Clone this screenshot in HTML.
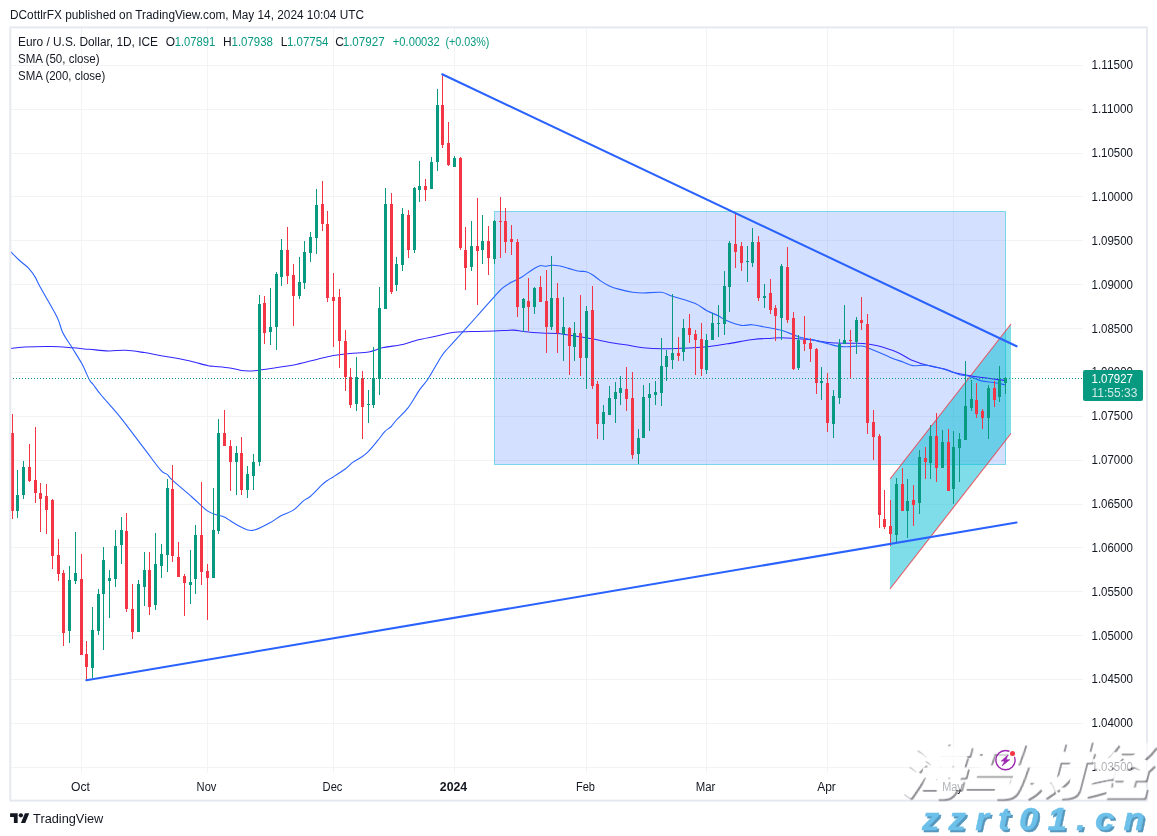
<!DOCTYPE html>
<html lang="en"><head><meta charset="utf-8"><title>EURUSD chart</title>
<style>html,body{margin:0;padding:0;background:#fff}body{width:1157px;height:836px;overflow:hidden;position:relative;font-family:"Liberation Sans",sans-serif}</style>
</head><body>
<svg width="1157" height="836" viewBox="0 0 1157 836" style="position:absolute;left:0;top:0">
<rect x="0" y="0" width="1157" height="836" fill="#fff"/>
<g fill="#f2f3f4" shape-rendering="crispEdges">
<rect x="11" y="65" width="1072" height="1"/>
<rect x="11" y="109" width="1072" height="1"/>
<rect x="11" y="153" width="1072" height="1"/>
<rect x="11" y="196" width="1072" height="1"/>
<rect x="11" y="240" width="1072" height="1"/>
<rect x="11" y="284" width="1072" height="1"/>
<rect x="11" y="328" width="1072" height="1"/>
<rect x="11" y="372" width="1072" height="1"/>
<rect x="11" y="416" width="1072" height="1"/>
<rect x="11" y="460" width="1072" height="1"/>
<rect x="11" y="504" width="1072" height="1"/>
<rect x="11" y="547" width="1072" height="1"/>
<rect x="11" y="591" width="1072" height="1"/>
<rect x="11" y="635" width="1072" height="1"/>
<rect x="11" y="679" width="1072" height="1"/>
<rect x="11" y="723" width="1072" height="1"/>
<rect x="11" y="767" width="1072" height="1"/>
<rect x="81" y="28" width="1" height="745"/>
<rect x="207" y="28" width="1" height="745"/>
<rect x="333" y="28" width="1" height="745"/>
<rect x="454" y="28" width="1" height="745"/>
<rect x="586" y="28" width="1" height="745"/>
<rect x="706" y="28" width="1" height="745"/>
<rect x="827" y="28" width="1" height="745"/>
<rect x="953" y="28" width="1" height="745"/>
</g>
<rect x="494.5" y="211.5" width="511" height="253" fill="#2962ff" fill-opacity="0.2" stroke="#5fd0e3" stroke-opacity="0.8" stroke-width="1"/>
<polygon points="890,479 1011,324 1011,433.5 890,589" fill="#00bcd4" fill-opacity="0.5"/>
<g stroke="#f23645" stroke-opacity="0.8" stroke-width="1.1" fill="none"><line x1="890" y1="479" x2="1011" y2="324"/><line x1="890" y1="589" x2="1011" y2="433.5"/></g>
<path d="M10.5,348.4C12.9,348.1 17.9,347.2 24.7,346.9C31.5,346.6 43.4,346.4 51.3,346.5C59.2,346.6 65.9,347.3 72.3,347.8C78.7,348.3 83.4,348.8 89.4,349.3C95.4,349.8 102.4,350.7 108.4,350.9C114.4,351.1 119.5,350.0 125.5,350.3C131.5,350.6 138.8,351.8 144.5,352.6C150.2,353.5 154.3,354.4 159.7,355.4C165.1,356.3 171.7,357.4 176.8,358.3C181.9,359.2 185.0,359.9 190.1,361.1C195.2,362.3 203.5,364.6 207.3,365.5C211.1,366.4 209.2,365.9 213.0,366.3C216.8,366.7 225.1,367.2 229.8,367.9C234.6,368.6 237.8,370.0 241.5,370.5C245.2,371.0 248.9,371.0 251.9,370.9C254.9,370.8 256.2,370.5 259.6,370.1C263.1,369.7 266.3,369.3 272.6,368.3C278.9,367.3 289.9,365.7 297.2,364.2C304.5,362.7 310.6,360.8 316.7,359.4C322.8,358.0 327.9,356.6 333.5,355.6C339.1,354.6 344.1,354.0 350.0,353.4C355.9,352.8 363.3,352.9 368.9,351.9C374.4,350.9 377.6,348.9 383.3,347.6C389.0,346.4 397.0,345.7 402.8,344.4C408.6,343.1 412.5,341.2 418.3,339.8C424.1,338.4 431.8,336.9 437.8,335.7C443.9,334.4 448.1,333.0 454.6,332.3C461.1,331.6 470.0,331.6 476.7,331.4C483.4,331.2 488.5,331.3 494.6,331.1C500.7,330.9 508.4,330.1 513.3,330.1C518.1,330.2 518.9,330.9 523.7,331.4C528.5,331.9 536.3,332.6 541.9,333.0C547.5,333.4 550.9,332.9 557.4,333.5C563.9,334.1 575.0,336.0 580.8,336.9C586.6,337.8 587.0,337.8 592.4,338.8C597.8,339.8 606.9,342.0 613.2,343.1C619.5,344.2 625.0,344.7 630.0,345.5C635.0,346.3 637.6,347.2 643.0,347.7C648.4,348.2 655.9,348.6 662.4,348.7C668.9,348.8 674.5,348.6 681.9,348.3C689.2,348.0 699.0,347.6 706.5,346.8C714.0,346.1 719.4,345.0 727.2,343.8C735.0,342.6 746.1,340.3 753.2,339.4C760.3,338.5 765.2,338.7 770.0,338.4C774.8,338.1 777.4,337.7 781.7,337.7C786.0,337.7 790.7,338.2 795.9,338.6C801.1,339.0 807.4,339.2 812.8,339.9C818.2,340.5 822.5,341.9 828.3,342.5C834.1,343.1 842.0,343.1 847.8,343.2C853.6,343.3 858.3,343.0 863.3,343.4C868.3,343.8 872.0,344.2 877.6,345.7C883.2,347.2 891.5,349.8 897.1,352.2C902.7,354.6 905.8,357.6 911.3,359.9C916.8,362.2 924.3,364.6 930.0,366.1C935.7,367.7 941.7,368.2 945.6,369.2C949.5,370.2 949.4,371.2 953.3,372.3C957.2,373.4 963.7,374.6 968.9,375.5C974.1,376.4 978.5,376.9 984.5,377.8C990.5,378.7 1001.6,380.1 1005.0,380.6" fill="none" stroke="#3226ff" stroke-width="1.05" stroke-linejoin="round"/>
<path d="M10.5,251.4C11.9,252.8 16.0,257.2 19.0,260.0C22.0,262.8 25.8,265.2 28.5,268.1C31.2,271.0 33.3,274.0 35.2,277.1C37.1,280.2 36.3,280.0 39.9,286.6C43.5,293.2 53.2,309.3 57.0,317.0C60.8,324.7 60.2,327.4 62.7,332.6C65.2,337.8 69.1,342.8 72.3,348.0C75.5,353.2 78.9,358.3 81.8,363.6C84.7,368.9 87.5,376.3 89.4,379.8C91.3,383.3 91.2,382.0 93.2,384.5C95.2,387.0 96.4,389.4 101.1,395.0C105.8,400.6 114.1,409.4 121.2,418.3C128.3,427.2 137.3,439.6 143.9,448.2C150.5,456.8 156.8,465.7 160.7,470.1C164.6,474.5 165.2,472.7 167.2,474.4C169.1,476.1 168.3,476.4 172.4,480.2C176.5,484.0 186.1,491.9 191.9,497.0C197.7,502.1 203.1,507.9 207.4,510.9C211.7,513.9 215.0,514.2 217.8,515.2C220.6,516.2 220.4,515.1 224.3,517.1C228.2,519.1 236.3,524.9 241.1,527.1C245.8,529.3 248.0,531.1 252.8,530.4C257.6,529.7 265.3,525.2 270.0,522.8C274.7,520.3 277.1,517.8 281.0,515.7C284.9,513.6 289.5,512.6 293.3,510.1C297.1,507.6 300.9,502.9 303.7,500.6C306.5,498.3 307.2,499.1 310.2,496.5C313.2,493.9 319.1,487.4 321.9,484.8C324.7,482.2 325.1,482.1 327.0,480.7C328.9,479.3 330.5,478.6 333.5,476.7C336.5,474.8 341.9,471.4 345.2,469.0C348.4,466.6 350.2,464.2 353.0,462.1C355.8,460.1 359.5,458.5 362.1,456.7C364.7,454.9 365.9,454.1 368.5,451.4C371.1,448.7 374.9,444.0 377.6,440.7C380.3,437.4 382.4,434.1 384.7,431.7C387.0,429.3 389.2,428.4 391.2,426.5C393.1,424.6 393.6,423.1 396.4,420.0C399.2,416.9 403.9,413.1 407.8,408.1C411.7,403.1 416.1,394.9 419.5,389.9C422.9,384.9 424.8,383.8 428.5,378.2C432.2,372.6 438.2,361.2 441.5,356.2C444.8,351.2 444.7,352.0 448.2,348.0C451.7,344.0 457.6,337.6 462.4,332.3C467.1,327.1 471.3,322.5 476.7,316.5C482.1,310.5 490.2,301.1 494.6,296.3C499.0,291.5 500.1,290.1 503.0,287.7C505.9,285.3 508.8,283.7 512.0,281.9C515.2,280.1 519.1,278.6 522.4,276.7C525.6,274.8 528.6,272.0 531.5,270.2C534.4,268.4 537.5,266.3 539.9,265.7C542.3,265.1 543.9,266.4 545.8,266.3C547.7,266.2 549.4,265.4 551.5,265.3C553.6,265.2 555.8,265.1 558.7,265.7C561.6,266.2 565.6,267.7 569.1,268.6C572.6,269.5 576.6,270.7 579.5,271.2C582.4,271.7 584.1,271.1 586.3,271.7C588.4,272.3 590.1,273.2 592.4,274.7C594.7,276.2 597.4,278.7 600.2,280.6C603.0,282.5 606.1,284.5 609.3,286.0C612.5,287.5 615.7,288.4 619.6,289.4C623.5,290.4 628.7,291.6 632.6,292.2C636.5,292.8 638.2,293.0 643.0,293.0C647.8,293.0 656.2,291.8 661.1,292.3C666.0,292.8 666.8,294.4 672.4,296.2C678.0,298.0 689.1,300.9 694.8,303.3C700.5,305.7 702.6,308.4 706.5,310.5C710.4,312.6 715.0,314.1 718.2,315.7C721.4,317.3 722.0,318.6 725.9,320.2C729.8,321.8 737.2,324.6 741.5,325.4C745.8,326.1 747.8,324.4 751.9,324.7C756.0,325.0 760.9,326.3 766.1,327.3C771.3,328.3 777.6,329.2 783.0,330.8C788.4,332.4 793.5,335.2 798.5,336.7C803.5,338.2 807.8,338.7 812.8,339.9C817.8,341.1 824.0,342.7 828.3,343.8C832.6,344.9 835.5,345.9 838.7,346.4C842.0,346.9 844.1,346.8 847.8,346.7C851.5,346.6 857.3,345.8 860.8,346.0C864.2,346.2 863.7,346.0 868.5,347.9C873.3,349.8 883.8,354.8 889.6,357.2C895.5,359.6 899.7,360.8 903.6,362.2C907.5,363.6 909.0,365.1 912.9,365.6C916.8,366.1 921.7,364.7 926.9,365.3C932.1,365.9 938.5,367.6 944.0,369.2C949.5,370.8 955.5,373.5 959.6,374.7C963.8,375.9 965.3,375.2 968.9,376.2C972.5,377.2 977.1,379.8 981.3,380.9C985.4,381.9 989.8,381.9 993.8,382.5C997.8,383.1 1003.1,384.4 1005.0,384.8" fill="none" stroke="#2962ff" stroke-width="1.1" stroke-linejoin="round"/>
<g shape-rendering="crispEdges">
<rect x="12" y="414" width="1" height="105" fill="#f23645"/><rect x="11" y="433" width="3" height="78" fill="#f23645"/>
<rect x="17" y="470" width="1" height="48" fill="#089981"/><rect x="16" y="495" width="3" height="16" fill="#089981"/>
<rect x="23" y="461" width="1" height="38" fill="#089981"/><rect x="22" y="467" width="3" height="28" fill="#089981"/>
<rect x="29" y="444" width="1" height="38" fill="#f23645"/><rect x="28" y="467" width="3" height="14" fill="#f23645"/>
<rect x="35" y="427" width="1" height="76" fill="#f23645"/><rect x="34" y="480" width="3" height="13" fill="#f23645"/>
<rect x="40" y="483" width="1" height="49" fill="#f23645"/><rect x="39" y="493" width="3" height="6" fill="#f23645"/>
<rect x="46" y="484" width="1" height="50" fill="#f23645"/><rect x="45" y="496" width="3" height="14" fill="#f23645"/>
<rect x="52" y="499" width="1" height="70" fill="#f23645"/><rect x="51" y="500" width="3" height="56" fill="#f23645"/>
<rect x="58" y="539" width="1" height="42" fill="#f23645"/><rect x="57" y="555" width="3" height="19" fill="#f23645"/>
<rect x="63" y="570" width="1" height="76" fill="#f23645"/><rect x="62" y="573" width="3" height="60" fill="#f23645"/>
<rect x="69" y="566" width="1" height="77" fill="#089981"/><rect x="68" y="580" width="3" height="51" fill="#089981"/>
<rect x="75" y="532" width="1" height="52" fill="#089981"/><rect x="74" y="573" width="3" height="8" fill="#089981"/>
<rect x="81" y="554" width="1" height="101" fill="#f23645"/><rect x="80" y="579" width="3" height="76" fill="#f23645"/>
<rect x="86" y="641" width="1" height="39" fill="#f23645"/><rect x="85" y="654" width="3" height="13" fill="#f23645"/>
<rect x="92" y="607" width="1" height="71" fill="#089981"/><rect x="91" y="630" width="3" height="38" fill="#089981"/>
<rect x="98" y="589" width="1" height="46" fill="#089981"/><rect x="97" y="594" width="3" height="37" fill="#089981"/>
<rect x="103" y="547" width="1" height="103" fill="#089981"/><rect x="102" y="560" width="3" height="34" fill="#089981"/>
<rect x="109" y="570" width="1" height="48" fill="#089981"/><rect x="108" y="578" width="3" height="3" fill="#089981"/>
<rect x="115" y="530" width="1" height="57" fill="#089981"/><rect x="114" y="546" width="3" height="33" fill="#089981"/>
<rect x="121" y="517" width="1" height="47" fill="#089981"/><rect x="120" y="530" width="3" height="15" fill="#089981"/>
<rect x="126" y="513" width="1" height="99" fill="#f23645"/><rect x="125" y="531" width="3" height="78" fill="#f23645"/>
<rect x="132" y="584" width="1" height="55" fill="#f23645"/><rect x="131" y="609" width="3" height="23" fill="#f23645"/>
<rect x="138" y="580" width="1" height="52" fill="#089981"/><rect x="137" y="584" width="3" height="48" fill="#089981"/>
<rect x="144" y="552" width="1" height="54" fill="#089981"/><rect x="143" y="570" width="3" height="17" fill="#089981"/>
<rect x="149" y="552" width="1" height="63" fill="#f23645"/><rect x="148" y="570" width="3" height="37" fill="#f23645"/>
<rect x="155" y="533" width="1" height="77" fill="#089981"/><rect x="154" y="564" width="3" height="41" fill="#089981"/>
<rect x="161" y="544" width="1" height="34" fill="#089981"/><rect x="160" y="554" width="3" height="12" fill="#089981"/>
<rect x="167" y="479" width="1" height="93" fill="#089981"/><rect x="166" y="488" width="3" height="67" fill="#089981"/>
<rect x="172" y="465" width="1" height="97" fill="#f23645"/><rect x="171" y="489" width="3" height="67" fill="#f23645"/>
<rect x="178" y="542" width="1" height="35" fill="#f23645"/><rect x="177" y="557" width="3" height="20" fill="#f23645"/>
<rect x="184" y="574" width="1" height="42" fill="#f23645"/><rect x="183" y="576" width="3" height="7" fill="#f23645"/>
<rect x="190" y="550" width="1" height="54" fill="#089981"/><rect x="189" y="582" width="3" height="3" fill="#089981"/>
<rect x="195" y="525" width="1" height="69" fill="#089981"/><rect x="194" y="535" width="3" height="44" fill="#089981"/>
<rect x="201" y="482" width="1" height="103" fill="#f23645"/><rect x="200" y="535" width="3" height="37" fill="#f23645"/>
<rect x="207" y="564" width="1" height="56" fill="#f23645"/><rect x="206" y="571" width="3" height="7" fill="#f23645"/>
<rect x="213" y="488" width="1" height="90" fill="#089981"/><rect x="212" y="530" width="3" height="48" fill="#089981"/>
<rect x="218" y="419" width="1" height="115" fill="#089981"/><rect x="217" y="433" width="3" height="98" fill="#089981"/>
<rect x="224" y="410" width="1" height="36" fill="#f23645"/><rect x="223" y="433" width="3" height="13" fill="#f23645"/>
<rect x="230" y="440" width="1" height="51" fill="#f23645"/><rect x="229" y="446" width="3" height="16" fill="#f23645"/>
<rect x="236" y="446" width="1" height="49" fill="#089981"/><rect x="235" y="453" width="3" height="9" fill="#089981"/>
<rect x="241" y="437" width="1" height="58" fill="#f23645"/><rect x="240" y="453" width="3" height="37" fill="#f23645"/>
<rect x="247" y="466" width="1" height="32" fill="#089981"/><rect x="246" y="474" width="3" height="16" fill="#089981"/>
<rect x="253" y="454" width="1" height="36" fill="#089981"/><rect x="252" y="462" width="3" height="14" fill="#089981"/>
<rect x="259" y="295" width="1" height="171" fill="#089981"/><rect x="258" y="304" width="3" height="158" fill="#089981"/>
<rect x="264" y="296" width="1" height="48" fill="#f23645"/><rect x="263" y="303" width="3" height="30" fill="#f23645"/>
<rect x="270" y="288" width="1" height="57" fill="#089981"/><rect x="269" y="327" width="3" height="5" fill="#089981"/>
<rect x="276" y="272" width="1" height="78" fill="#089981"/><rect x="275" y="274" width="3" height="53" fill="#089981"/>
<rect x="281" y="239" width="1" height="47" fill="#089981"/><rect x="280" y="250" width="3" height="27" fill="#089981"/>
<rect x="287" y="227" width="1" height="57" fill="#f23645"/><rect x="286" y="250" width="3" height="26" fill="#f23645"/>
<rect x="293" y="264" width="1" height="62" fill="#f23645"/><rect x="292" y="275" width="3" height="21" fill="#f23645"/>
<rect x="299" y="257" width="1" height="42" fill="#089981"/><rect x="298" y="282" width="3" height="14" fill="#089981"/>
<rect x="304" y="241" width="1" height="48" fill="#089981"/><rect x="303" y="252" width="3" height="31" fill="#089981"/>
<rect x="310" y="232" width="1" height="30" fill="#089981"/><rect x="309" y="237" width="3" height="16" fill="#089981"/>
<rect x="316" y="189" width="1" height="65" fill="#089981"/><rect x="315" y="205" width="3" height="33" fill="#089981"/>
<rect x="322" y="181" width="1" height="50" fill="#f23645"/><rect x="321" y="204" width="3" height="20" fill="#f23645"/>
<rect x="327" y="211" width="1" height="91" fill="#f23645"/><rect x="326" y="224" width="3" height="74" fill="#f23645"/>
<rect x="333" y="273" width="1" height="74" fill="#f23645"/><rect x="332" y="297" width="3" height="4" fill="#f23645"/>
<rect x="339" y="289" width="1" height="79" fill="#f23645"/><rect x="338" y="297" width="3" height="44" fill="#f23645"/>
<rect x="345" y="330" width="1" height="61" fill="#f23645"/><rect x="344" y="341" width="3" height="36" fill="#f23645"/>
<rect x="350" y="368" width="1" height="40" fill="#f23645"/><rect x="349" y="377" width="3" height="28" fill="#f23645"/>
<rect x="356" y="357" width="1" height="54" fill="#089981"/><rect x="355" y="377" width="3" height="27" fill="#089981"/>
<rect x="362" y="371" width="1" height="68" fill="#f23645"/><rect x="361" y="378" width="3" height="29" fill="#f23645"/>
<rect x="368" y="390" width="1" height="33" fill="#089981"/><rect x="367" y="404" width="3" height="1" fill="#089981"/>
<rect x="373" y="347" width="1" height="61" fill="#089981"/><rect x="372" y="378" width="3" height="27" fill="#089981"/>
<rect x="379" y="287" width="1" height="108" fill="#089981"/><rect x="378" y="308" width="3" height="71" fill="#089981"/>
<rect x="385" y="188" width="1" height="121" fill="#089981"/><rect x="384" y="204" width="3" height="105" fill="#089981"/>
<rect x="391" y="193" width="1" height="101" fill="#f23645"/><rect x="390" y="204" width="3" height="88" fill="#f23645"/>
<rect x="396" y="257" width="1" height="34" fill="#089981"/><rect x="395" y="264" width="3" height="21" fill="#089981"/>
<rect x="402" y="208" width="1" height="63" fill="#089981"/><rect x="401" y="214" width="3" height="51" fill="#089981"/>
<rect x="408" y="210" width="1" height="48" fill="#f23645"/><rect x="407" y="215" width="3" height="35" fill="#f23645"/>
<rect x="414" y="187" width="1" height="66" fill="#089981"/><rect x="413" y="188" width="3" height="62" fill="#089981"/>
<rect x="419" y="161" width="1" height="41" fill="#089981"/><rect x="418" y="186" width="3" height="4" fill="#089981"/>
<rect x="425" y="179" width="1" height="22" fill="#f23645"/><rect x="424" y="186" width="3" height="4" fill="#f23645"/>
<rect x="431" y="157" width="1" height="32" fill="#089981"/><rect x="430" y="162" width="3" height="27" fill="#089981"/>
<rect x="437" y="89" width="1" height="82" fill="#089981"/><rect x="436" y="105" width="3" height="57" fill="#089981"/>
<rect x="442" y="74" width="1" height="74" fill="#f23645"/><rect x="441" y="105" width="3" height="40" fill="#f23645"/>
<rect x="448" y="122" width="1" height="44" fill="#f23645"/><rect x="447" y="143" width="3" height="22" fill="#f23645"/>
<rect x="454" y="156" width="1" height="11" fill="#089981"/><rect x="453" y="158" width="3" height="9" fill="#089981"/>
<rect x="460" y="157" width="1" height="93" fill="#f23645"/><rect x="459" y="158" width="3" height="90" fill="#f23645"/>
<rect x="465" y="227" width="1" height="63" fill="#f23645"/><rect x="464" y="250" width="3" height="18" fill="#f23645"/>
<rect x="471" y="221" width="1" height="50" fill="#089981"/><rect x="470" y="246" width="3" height="21" fill="#089981"/>
<rect x="477" y="198" width="1" height="107" fill="#f23645"/><rect x="476" y="246" width="3" height="5" fill="#f23645"/>
<rect x="482" y="215" width="1" height="49" fill="#089981"/><rect x="481" y="241" width="3" height="9" fill="#089981"/>
<rect x="488" y="226" width="1" height="49" fill="#f23645"/><rect x="487" y="241" width="3" height="17" fill="#f23645"/>
<rect x="494" y="220" width="1" height="44" fill="#089981"/><rect x="493" y="221" width="3" height="38" fill="#089981"/>
<rect x="500" y="197" width="1" height="61" fill="#f23645"/><rect x="499" y="221" width="3" height="1" fill="#f23645"/>
<rect x="505" y="208" width="1" height="45" fill="#f23645"/><rect x="504" y="221" width="3" height="21" fill="#f23645"/>
<rect x="511" y="225" width="1" height="30" fill="#f23645"/><rect x="510" y="239" width="3" height="3" fill="#f23645"/>
<rect x="517" y="239" width="1" height="78" fill="#f23645"/><rect x="516" y="242" width="3" height="65" fill="#f23645"/>
<rect x="523" y="298" width="1" height="34" fill="#089981"/><rect x="522" y="299" width="3" height="9" fill="#089981"/>
<rect x="528" y="278" width="1" height="53" fill="#f23645"/><rect x="527" y="301" width="3" height="6" fill="#f23645"/>
<rect x="534" y="287" width="1" height="27" fill="#089981"/><rect x="533" y="288" width="3" height="19" fill="#089981"/>
<rect x="540" y="276" width="1" height="26" fill="#f23645"/><rect x="539" y="287" width="3" height="15" fill="#f23645"/>
<rect x="546" y="270" width="1" height="83" fill="#f23645"/><rect x="545" y="301" width="3" height="26" fill="#f23645"/>
<rect x="551" y="256" width="1" height="74" fill="#089981"/><rect x="550" y="298" width="3" height="29" fill="#089981"/>
<rect x="557" y="283" width="1" height="70" fill="#f23645"/><rect x="556" y="298" width="3" height="35" fill="#f23645"/>
<rect x="563" y="297" width="1" height="64" fill="#089981"/><rect x="562" y="327" width="3" height="7" fill="#089981"/>
<rect x="569" y="327" width="1" height="48" fill="#f23645"/><rect x="568" y="328" width="3" height="18" fill="#f23645"/>
<rect x="574" y="322" width="1" height="39" fill="#089981"/><rect x="573" y="333" width="3" height="14" fill="#089981"/>
<rect x="580" y="295" width="1" height="81" fill="#f23645"/><rect x="579" y="333" width="3" height="25" fill="#f23645"/>
<rect x="586" y="306" width="1" height="83" fill="#089981"/><rect x="585" y="311" width="3" height="47" fill="#089981"/>
<rect x="592" y="286" width="1" height="103" fill="#f23645"/><rect x="591" y="310" width="3" height="76" fill="#f23645"/>
<rect x="597" y="381" width="1" height="58" fill="#f23645"/><rect x="596" y="384" width="3" height="40" fill="#f23645"/>
<rect x="603" y="405" width="1" height="35" fill="#089981"/><rect x="602" y="412" width="3" height="12" fill="#089981"/>
<rect x="609" y="386" width="1" height="29" fill="#089981"/><rect x="608" y="398" width="3" height="17" fill="#089981"/>
<rect x="615" y="382" width="1" height="41" fill="#089981"/><rect x="614" y="392" width="3" height="7" fill="#089981"/>
<rect x="620" y="376" width="1" height="29" fill="#089981"/><rect x="619" y="388" width="3" height="5" fill="#089981"/>
<rect x="626" y="367" width="1" height="44" fill="#f23645"/><rect x="625" y="389" width="3" height="10" fill="#f23645"/>
<rect x="632" y="372" width="1" height="87" fill="#f23645"/><rect x="631" y="398" width="3" height="57" fill="#f23645"/>
<rect x="638" y="429" width="1" height="35" fill="#089981"/><rect x="637" y="438" width="3" height="16" fill="#089981"/>
<rect x="643" y="385" width="1" height="53" fill="#089981"/><rect x="642" y="397" width="3" height="41" fill="#089981"/>
<rect x="649" y="383" width="1" height="48" fill="#089981"/><rect x="648" y="394" width="3" height="4" fill="#089981"/>
<rect x="655" y="381" width="1" height="24" fill="#089981"/><rect x="654" y="392" width="3" height="3" fill="#089981"/>
<rect x="661" y="338" width="1" height="68" fill="#089981"/><rect x="660" y="366" width="3" height="27" fill="#089981"/>
<rect x="666" y="350" width="1" height="31" fill="#089981"/><rect x="665" y="356" width="3" height="11" fill="#089981"/>
<rect x="672" y="294" width="1" height="75" fill="#089981"/><rect x="671" y="353" width="3" height="7" fill="#089981"/>
<rect x="678" y="337" width="1" height="24" fill="#f23645"/><rect x="677" y="353" width="3" height="3" fill="#f23645"/>
<rect x="683" y="319" width="1" height="42" fill="#089981"/><rect x="682" y="328" width="3" height="24" fill="#089981"/>
<rect x="689" y="314" width="1" height="29" fill="#f23645"/><rect x="688" y="328" width="3" height="7" fill="#f23645"/>
<rect x="695" y="330" width="1" height="45" fill="#f23645"/><rect x="694" y="334" width="3" height="6" fill="#f23645"/>
<rect x="701" y="323" width="1" height="53" fill="#f23645"/><rect x="700" y="339" width="3" height="30" fill="#f23645"/>
<rect x="706" y="334" width="1" height="40" fill="#089981"/><rect x="705" y="340" width="3" height="30" fill="#089981"/>
<rect x="712" y="313" width="1" height="27" fill="#089981"/><rect x="711" y="323" width="3" height="17" fill="#089981"/>
<rect x="718" y="305" width="1" height="32" fill="#089981"/><rect x="717" y="323" width="3" height="1" fill="#089981"/>
<rect x="724" y="271" width="1" height="64" fill="#089981"/><rect x="723" y="286" width="3" height="38" fill="#089981"/>
<rect x="729" y="241" width="1" height="71" fill="#089981"/><rect x="728" y="243" width="3" height="44" fill="#089981"/>
<rect x="735" y="213" width="1" height="55" fill="#f23645"/><rect x="734" y="244" width="3" height="8" fill="#f23645"/>
<rect x="741" y="242" width="1" height="29" fill="#f23645"/><rect x="740" y="246" width="3" height="17" fill="#f23645"/>
<rect x="747" y="246" width="1" height="36" fill="#089981"/><rect x="746" y="261" width="3" height="1" fill="#089981"/>
<rect x="752" y="228" width="1" height="39" fill="#089981"/><rect x="751" y="242" width="3" height="21" fill="#089981"/>
<rect x="758" y="236" width="1" height="65" fill="#f23645"/><rect x="757" y="242" width="3" height="56" fill="#f23645"/>
<rect x="764" y="284" width="1" height="24" fill="#089981"/><rect x="763" y="296" width="3" height="2" fill="#089981"/>
<rect x="770" y="279" width="1" height="35" fill="#f23645"/><rect x="769" y="293" width="3" height="17" fill="#f23645"/>
<rect x="775" y="305" width="1" height="36" fill="#f23645"/><rect x="774" y="308" width="3" height="8" fill="#f23645"/>
<rect x="781" y="264" width="1" height="76" fill="#089981"/><rect x="780" y="266" width="3" height="52" fill="#089981"/>
<rect x="787" y="247" width="1" height="76" fill="#f23645"/><rect x="786" y="267" width="3" height="53" fill="#f23645"/>
<rect x="793" y="312" width="1" height="58" fill="#f23645"/><rect x="792" y="318" width="3" height="51" fill="#f23645"/>
<rect x="798" y="335" width="1" height="35" fill="#089981"/><rect x="797" y="340" width="3" height="28" fill="#089981"/>
<rect x="804" y="316" width="1" height="35" fill="#f23645"/><rect x="803" y="340" width="3" height="4" fill="#f23645"/>
<rect x="810" y="338" width="1" height="24" fill="#f23645"/><rect x="809" y="343" width="3" height="6" fill="#f23645"/>
<rect x="816" y="348" width="1" height="46" fill="#f23645"/><rect x="815" y="349" width="3" height="34" fill="#f23645"/>
<rect x="821" y="367" width="1" height="33" fill="#089981"/><rect x="820" y="381" width="3" height="2" fill="#089981"/>
<rect x="827" y="373" width="1" height="59" fill="#f23645"/><rect x="826" y="383" width="3" height="40" fill="#f23645"/>
<rect x="833" y="390" width="1" height="48" fill="#089981"/><rect x="832" y="396" width="3" height="28" fill="#089981"/>
<rect x="839" y="339" width="1" height="65" fill="#089981"/><rect x="838" y="344" width="3" height="54" fill="#089981"/>
<rect x="844" y="305" width="1" height="39" fill="#089981"/><rect x="843" y="340" width="3" height="4" fill="#089981"/>
<rect x="850" y="330" width="1" height="48" fill="#f23645"/><rect x="849" y="340" width="3" height="1" fill="#f23645"/>
<rect x="856" y="317" width="1" height="37" fill="#089981"/><rect x="855" y="320" width="3" height="22" fill="#089981"/>
<rect x="861" y="297" width="1" height="33" fill="#f23645"/><rect x="860" y="320" width="3" height="3" fill="#f23645"/>
<rect x="867" y="314" width="1" height="120" fill="#f23645"/><rect x="866" y="324" width="3" height="99" fill="#f23645"/>
<rect x="873" y="410" width="1" height="50" fill="#f23645"/><rect x="872" y="422" width="3" height="15" fill="#f23645"/>
<rect x="879" y="434" width="1" height="94" fill="#f23645"/><rect x="878" y="436" width="3" height="79" fill="#f23645"/>
<rect x="884" y="490" width="1" height="39" fill="#f23645"/><rect x="883" y="519" width="3" height="8" fill="#f23645"/>
<rect x="890" y="500" width="1" height="46" fill="#f23645"/><rect x="889" y="526" width="3" height="8" fill="#f23645"/>
<rect x="896" y="478" width="1" height="64" fill="#089981"/><rect x="895" y="484" width="3" height="51" fill="#089981"/>
<rect x="902" y="468" width="1" height="43" fill="#f23645"/><rect x="901" y="484" width="3" height="27" fill="#f23645"/>
<rect x="907" y="479" width="1" height="59" fill="#089981"/><rect x="906" y="501" width="3" height="10" fill="#089981"/>
<rect x="913" y="485" width="1" height="41" fill="#f23645"/><rect x="912" y="500" width="3" height="5" fill="#f23645"/>
<rect x="919" y="450" width="1" height="64" fill="#089981"/><rect x="918" y="457" width="3" height="46" fill="#089981"/>
<rect x="925" y="447" width="1" height="32" fill="#f23645"/><rect x="924" y="458" width="3" height="4" fill="#f23645"/>
<rect x="930" y="425" width="1" height="54" fill="#089981"/><rect x="929" y="436" width="3" height="27" fill="#089981"/>
<rect x="936" y="413" width="1" height="69" fill="#f23645"/><rect x="935" y="436" width="3" height="32" fill="#f23645"/>
<rect x="942" y="430" width="1" height="38" fill="#089981"/><rect x="941" y="442" width="3" height="26" fill="#089981"/>
<rect x="948" y="429" width="1" height="62" fill="#f23645"/><rect x="947" y="442" width="3" height="49" fill="#f23645"/>
<rect x="953" y="431" width="1" height="73" fill="#089981"/><rect x="952" y="447" width="3" height="42" fill="#089981"/>
<rect x="959" y="433" width="1" height="49" fill="#089981"/><rect x="958" y="439" width="3" height="9" fill="#089981"/>
<rect x="965" y="361" width="1" height="79" fill="#089981"/><rect x="964" y="406" width="3" height="34" fill="#089981"/>
<rect x="971" y="380" width="1" height="31" fill="#089981"/><rect x="970" y="399" width="3" height="9" fill="#089981"/>
<rect x="976" y="383" width="1" height="35" fill="#f23645"/><rect x="975" y="400" width="3" height="14" fill="#f23645"/>
<rect x="982" y="409" width="1" height="20" fill="#f23645"/><rect x="981" y="411" width="3" height="7" fill="#f23645"/>
<rect x="988" y="385" width="1" height="54" fill="#089981"/><rect x="987" y="388" width="3" height="30" fill="#089981"/>
<rect x="994" y="381" width="1" height="26" fill="#f23645"/><rect x="993" y="388" width="3" height="12" fill="#f23645"/>
<rect x="999" y="366" width="1" height="36" fill="#089981"/><rect x="998" y="380" width="3" height="17" fill="#089981"/>
<rect x="1005" y="377" width="1" height="17" fill="#089981"/><rect x="1004" y="378" width="3" height="5" fill="#089981"/>
</g>
<g stroke="#2962ff" stroke-width="2.05" stroke-linecap="round"><line x1="442.2" y1="74.2" x2="1016.6" y2="346.2"/><line x1="86.3" y1="680.2" x2="1016.6" y2="522.5"/></g>
<line x1="10" y1="378.5" x2="1083" y2="378.5" stroke="#089981" stroke-width="1" stroke-dasharray="1 2" shape-rendering="crispEdges"/>
<rect x="10.3" y="27.4" width="1136.6" height="773.2" fill="none" stroke="#e6e8f0" stroke-width="1.9"/>
<g font-family="'Liberation Sans', sans-serif" font-size="12" fill="#131722">
<text x="1091.5" y="68.6" textLength="41.5" lengthAdjust="spacingAndGlyphs">1.11500</text>
<text x="1091.5" y="112.6" textLength="41.5" lengthAdjust="spacingAndGlyphs">1.11000</text>
<text x="1091.5" y="156.6" textLength="41.5" lengthAdjust="spacingAndGlyphs">1.10500</text>
<text x="1091.5" y="200.6" textLength="41.5" lengthAdjust="spacingAndGlyphs">1.10000</text>
<text x="1091.5" y="244.6" textLength="41.5" lengthAdjust="spacingAndGlyphs">1.09500</text>
<text x="1091.5" y="288.6" textLength="41.5" lengthAdjust="spacingAndGlyphs">1.09000</text>
<text x="1091.5" y="332.6" textLength="41.5" lengthAdjust="spacingAndGlyphs">1.08500</text>
<text x="1091.5" y="375.6" textLength="41.5" lengthAdjust="spacingAndGlyphs">1.08000</text>
<text x="1091.5" y="419.6" textLength="41.5" lengthAdjust="spacingAndGlyphs">1.07500</text>
<text x="1091.5" y="463.6" textLength="41.5" lengthAdjust="spacingAndGlyphs">1.07000</text>
<text x="1091.5" y="507.6" textLength="41.5" lengthAdjust="spacingAndGlyphs">1.06500</text>
<text x="1091.5" y="551.6" textLength="41.5" lengthAdjust="spacingAndGlyphs">1.06000</text>
<text x="1091.5" y="595.6" textLength="41.5" lengthAdjust="spacingAndGlyphs">1.05500</text>
<text x="1091.5" y="639.6" textLength="41.5" lengthAdjust="spacingAndGlyphs">1.05000</text>
<text x="1091.5" y="682.6" textLength="41.5" lengthAdjust="spacingAndGlyphs">1.04500</text>
<text x="1091.5" y="726.6" textLength="41.5" lengthAdjust="spacingAndGlyphs">1.04000</text>
<text x="1091.5" y="770.6" textLength="41.5" lengthAdjust="spacingAndGlyphs">1.03500</text>
<text x="71.0" y="790.8" textLength="18.9" lengthAdjust="spacingAndGlyphs">Oct</text>
<text x="196.6" y="790.8" textLength="19.8" lengthAdjust="spacingAndGlyphs">Nov</text>
<text x="322.6" y="790.8" textLength="19.8" lengthAdjust="spacingAndGlyphs">Dec</text>
<text x="439.8" y="790.8" textLength="27.4" lengthAdjust="spacingAndGlyphs" font-weight="bold">2024</text>
<text x="576.0" y="790.8" textLength="19" lengthAdjust="spacingAndGlyphs">Feb</text>
<text x="695.7" y="790.8" textLength="19.6" lengthAdjust="spacingAndGlyphs">Mar</text>
<text x="817.2" y="790.8" textLength="18.6" lengthAdjust="spacingAndGlyphs">Apr</text>
<text x="942.2" y="790.8" textLength="20.6" lengthAdjust="spacingAndGlyphs">May</text>
</g>
<g font-family="'Liberation Sans', sans-serif" font-size="12" fill="#131722">
<text x="10" y="19" textLength="354" lengthAdjust="spacingAndGlyphs">DCottlrFX published on TradingView.com, May 14, 2024 10:04 UTC</text>
<text x="18" y="46" textLength="140" lengthAdjust="spacingAndGlyphs">Euro / U.S. Dollar, 1D, ICE</text>
<text x="18" y="63" textLength="81.5" lengthAdjust="spacingAndGlyphs">SMA (50, close)</text>
<text x="18" y="80" textLength="87.3" lengthAdjust="spacingAndGlyphs">SMA (200, close)</text>
<text x="165.7" y="46">O</text>
<text x="223" y="46">H</text>
<text x="280.8" y="46">L</text>
<text x="335.2" y="46">C</text>
<text x="174.7" y="46" fill="#089981" textLength="40.5" lengthAdjust="spacingAndGlyphs">1.07891</text>
<text x="231.5" y="46" fill="#089981" textLength="41.5" lengthAdjust="spacingAndGlyphs">1.07938</text>
<text x="287" y="46" fill="#089981" textLength="41.4" lengthAdjust="spacingAndGlyphs">1.07754</text>
<text x="342.7" y="46" fill="#089981" textLength="42" lengthAdjust="spacingAndGlyphs">1.07927</text>
<text x="392.8" y="46" fill="#089981" textLength="47" lengthAdjust="spacingAndGlyphs">+0.00032</text>
<text x="445.4" y="46" fill="#089981" textLength="44" lengthAdjust="spacingAndGlyphs">(+0.03%)</text>
</g>
<rect x="1083" y="370" width="60" height="31" rx="2" fill="#089981"/>
<g font-family="'Liberation Sans', sans-serif" font-size="12" fill="#fff">
<text x="1091.5" y="383" textLength="41.5" lengthAdjust="spacingAndGlyphs">1.07927</text>
<text x="1091.5" y="397" fill-opacity="0.8">11:55:33</text>
</g>
<g transform="translate(10.1,811.05) scale(0.54)" fill="#131722"><path d="M14 22H7V11H0V4h14v18z"/><circle cx="20" cy="8" r="4"/><path d="M28 22h-8l7.500-18h8L28 22z"/></g>
<text x="33.1" y="822.7" font-family="'Liberation Sans', sans-serif" font-size="13" fill="#131722" textLength="70.2" lengthAdjust="spacingAndGlyphs">TradingView</text>
<filter id="wmf" x="-5%" y="-15%" width="110%" height="130%" color-interpolation-filters="sRGB"><feOffset in="SourceAlpha" dx="2.1" dy="2.3" result="o"/><feGaussianBlur in="o" stdDeviation="0.5" result="b"/><feComposite in="b" in2="SourceAlpha" operator="out" result="so"/><feFlood flood-color="#505058" flood-opacity="0.62" result="sc"/><feComposite in="sc" in2="so" operator="in" result="shadow"/><feFlood flood-color="#ffffff" flood-opacity="0.66" result="wc"/><feComposite in="wc" in2="SourceAlpha" operator="in" result="white"/><feMerge><feMergeNode in="shadow"/><feMergeNode in="white"/></feMerge></filter>
<filter id="zzf" x="-5%" y="-15%" width="110%" height="130%" color-interpolation-filters="sRGB"><feOffset in="SourceAlpha" dx="1.4" dy="1.5" result="o"/><feFlood flood-color="#5597bd" result="sc"/><feComposite in="sc" in2="o" operator="in" result="shadow"/><feMerge><feMergeNode in="shadow"/><feMergeNode in="SourceGraphic"/></feMerge></filter>
<g transform="skewX(-14.5)"><text x="1105.5" y="791.8" font-family="'Liberation Sans', 'Noto Sans CJK SC', sans-serif" font-weight="900" font-size="58.5" fill="#ffffff" stroke="#ffffff" stroke-width="2.4" stroke-linejoin="round" textLength="246.0" lengthAdjust="spacingAndGlyphs" filter="url(#wmf)">海马财经</text></g>
<g transform="translate(922.0,0) scale(1.1,1)"><text x="0" y="830.4" font-family="'Liberation Sans', sans-serif" font-weight="bold" font-style="italic" font-size="31.5" fill="#6cc0ea" stroke="#6cc0ea" stroke-width="0.4" stroke-linejoin="round" textLength="202.5" lengthAdjust="spacing" filter="url(#zzf)">zzrt01.cn</text></g>
<g><circle cx="1005.5" cy="760.1" r="9.6" fill="#fff" fill-opacity="0.55" stroke="#9c27b0" stroke-width="1.4"/><path d="M1007.8,755.1 L1001.3,761.1 L1004.7,761.1 L1002.2,765.8 L1009.7,759.8 L1006.1,759.8 Z" fill="#9c27b0" stroke="#9c27b0" stroke-width="0.7" stroke-linejoin="round"/><circle cx="1012.5" cy="753.6" r="3.7" fill="#fff"/><circle cx="1012.5" cy="753.6" r="2.5" fill="#f23645"/></g>
</svg>
</body></html>
